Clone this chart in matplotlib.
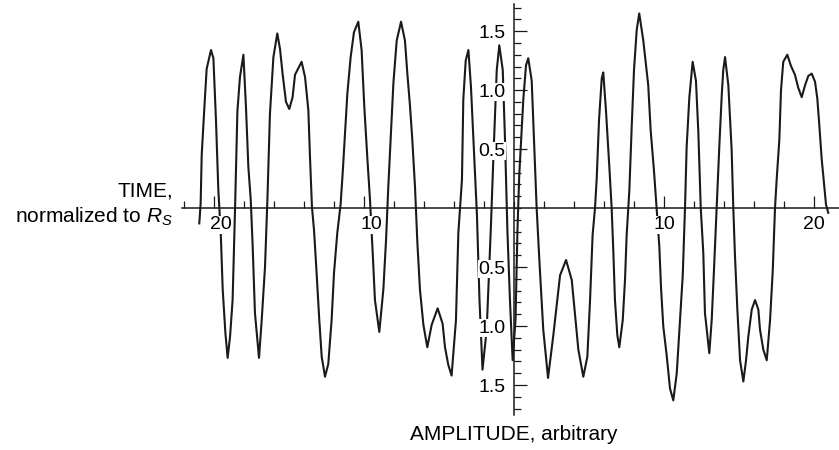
import numpy as np
import matplotlib
matplotlib.use('Agg')
import matplotlib.pyplot as plt
import matplotlib.transforms as mtransforms
from matplotlib.ticker import MultipleLocator

plt.rcParams['font.family'] = 'Liberation Sans'
plt.rcParams['mathtext.fontset'] = 'custom'
plt.rcParams['mathtext.rm'] = 'Liberation Sans'
plt.rcParams['mathtext.it'] = 'Liberation Sans:italic'

# waveform (time normalized to R_S, amplitude arbitrary)
time = [-20.98, -20.89, -20.82, -20.67, -20.49, -20.2, -20.04, -19.87, -19.71, -19.55,
        -19.42, -19.24, -19.09, -18.93, -18.76, -18.6, -18.44, -18.27, -18.04, -17.87,
        -17.71, -17.55, -17.42, -17.27, -17.0, -16.82, -16.6, -16.44, -16.27, -16.04,
        -15.78, -15.6, -15.42, -15.2, -14.98, -14.76, -14.6, -14.16, -13.93, -13.71,
        -13.6, -13.47, -13.33, -13.16, -12.98, -12.82, -12.6, -12.38, -12.16, -12.0,
        -11.78, -11.56, -11.42, -11.27, -11.11, -10.89, -10.67, -10.38, -10.16, -9.98,
        -9.78, -9.6, -9.42, -9.27, -8.98, -8.71, -8.53, -8.38, -8.22, -8.04,
        -7.82, -7.53, -7.27, -7.11, -6.93, -6.78, -6.6, -6.44, -6.27, -6.04,
        -5.78, -5.49, -5.09, -4.76, -4.6, -4.38, -4.16, -3.87, -3.71,
        -3.6, -3.47, -3.38, -3.22, -3.04, -2.87, -2.67, -2.47, -2.3, -2.1,
        -1.82, -1.55, -1.38, -1.15, -0.98, -0.75, -0.6, -0.44, -0.27, -0.09,
        0.1, 0.23, 0.35, 0.62, 0.8, 0.95, 1.18, 1.33, 1.51, 1.69,
        1.95, 2.27, 2.62, 2.85, 3.07, 3.47, 3.85, 4.07, 4.29, 4.62,
        4.89, 5.07, 5.24, 5.4, 5.51, 5.67, 5.85, 5.95, 6.13, 6.36,
        6.51, 6.62, 6.73, 6.89, 7.02, 7.25, 7.4, 7.51, 7.69, 7.85,
        8.0, 8.18, 8.35, 8.62, 8.95, 9.11, 9.33, 9.51, 9.69, 9.8,
        9.95, 10.18, 10.4, 10.62, 10.85, 11.07, 11.25, 11.4, 11.51, 11.69,
        11.91, 12.13, 12.29, 12.45, 12.62, 12.73, 13.02, 13.18, 13.33, 13.51,
        13.69, 13.85, 13.95, 14.07, 14.29, 14.51, 14.62, 14.73, 14.89, 15.07,
        15.29, 15.47, 15.62, 15.85, 16.07, 16.29, 16.4, 16.62, 16.85, 17.07,
        17.25, 17.4, 17.51, 17.69, 17.8, 17.95, 18.22, 18.45, 18.73, 18.95,
        19.18, 19.4, 19.62, 19.85, 20.07, 20.22, 20.35, 20.51, 20.67, 20.8,
        20.95]

amplitude = [-0.13, 0.04, 0.45, 0.79, 1.18, 1.34, 1.27, 0.75, 0.15, -0.21,
             -0.69, -1.06, -1.27, -1.09, -0.78, -0.02, 0.82, 1.11, 1.30, 0.86,
             0.35, 0.07, -0.33, -0.89, -1.27, -0.95, -0.50, 0.07, 0.80, 1.28,
             1.48, 1.35, 1.13, 0.90, 0.84, 0.94, 1.13, 1.24, 1.11, 0.83,
             0.43, 0.01, -0.19, -0.55, -0.95, -1.26, -1.43, -1.32, -0.95, -0.55,
             -0.21, 0.03, 0.30, 0.63, 0.97, 1.28, 1.49, 1.58, 1.34, 0.86,
             0.43, 0.07, -0.38, -0.78, -1.05, -0.69, -0.27, 0.18, 0.60, 1.06,
             1.42, 1.58, 1.42, 1.14, 0.86, 0.58, 0.18, -0.30, -0.69, -0.99,
             -1.18, -0.99, -0.85, -0.98, -1.18, -1.33, -1.42, -0.95, -0.21,
             0.0, 0.24, 0.92, 1.25, 1.34, 1.03, 0.49, -0.06, -0.78, -1.37,
             -1.03, -0.19, 0.41, 1.17, 1.38, 1.17, 0.58, -0.19, -0.78, -1.29,
             -0.95, -0.19, 0.28, 0.92, 1.21, 1.27, 1.08, 0.58, 0.0, -0.44,
             -1.03, -1.44, -1.08, -0.82, -0.57, -0.44, -0.61, -0.91, -1.20, -1.43,
             -1.26, -0.78, -0.23, 0.0, 0.24, 0.75, 1.10, 1.15, 0.83, 0.34,
             0.0, -0.36, -0.78, -1.08, -1.18, -0.95, -0.61, -0.23, 0.15, 0.70,
             1.17, 1.51, 1.65, 1.42, 1.04, 0.66, 0.32, 0.0, -0.33, -0.67,
             -1.0, -1.25, -1.53, -1.63, -1.40, -0.95, -0.57, 0.0, 0.52, 0.94,
             1.24, 1.08, 0.64, 0.0, -0.38, -0.89, -1.23, -0.95, -0.53, 0.0,
             0.53, 0.96, 1.17, 1.28, 1.04, 0.49, 0.0, -0.40, -0.86, -1.29,
             -1.47, -1.29, -1.09, -0.86, -0.78, -0.86, -1.03, -1.20, -1.29, -0.95,
             -0.53, 0.0, 0.24, 0.58, 1.0, 1.24, 1.30, 1.21, 1.13, 1.02,
             0.94, 1.04, 1.12, 1.14, 1.07, 0.93, 0.71, 0.42, 0.21, 0.03,
             -0.04]

xticks = [-20, -10, 10, 20]
xticklabels = ['20', '10', '10', '20']
yticks = [-1.5, -1.0, -0.5, 0.5, 1.0, 1.5]
yticklabels = ['1.5', '1.0', '0.5', '0.5', '1.0', '1.5']

fig = plt.figure(figsize=(8.39, 4.5), dpi=100)
ax = fig.add_axes([182.5/839, (450-414.5)/450, 657/839, 410.5/450])
ax.set_xlim(-22.1, 21.7)
ax.set_ylim(-1.75, 1.73)

ax.plot(time, amplitude, color='#1a1a1a', lw=1.5, zorder=2)

# axes through the origin, Mathematica style
for side in ['top', 'right']:
	ax.spines[side].set_visible(False)
ax.spines['left'].set_position('zero')
ax.spines['bottom'].set_position('zero')
for side in ['left', 'bottom']:
	ax.spines[side].set_linewidth(1.1)
	ax.spines[side].set_color('#1a1a1a')
ax.set_axisbelow(False)
ax.patch.set_visible(False)

ax.set_xticks(xticks)
ax.set_xticklabels(xticklabels)
ax.set_yticks(yticks)
ax.set_yticklabels(yticklabels)
ax.xaxis.set_minor_locator(MultipleLocator(2))
ax.yaxis.set_minor_locator(MultipleLocator(0.1))
ax.tick_params(which='major', direction='in', length=9, width=0.9, color='#1a1a1a', labelsize=14)
ax.tick_params(which='minor', direction='in', length=5, width=0.9, color='#1a1a1a')
ax.tick_params(axis='x', which='major', pad=6)
ax.tick_params(axis='y', which='major', pad=6)
for lab in ax.get_xticklabels() + ax.get_yticklabels():
	lab.set_bbox(dict(facecolor='white', edgecolor='none', pad=0.5))

# negative side labels sit a little right of their ticks (room for a hidden minus)
shift = mtransforms.ScaledTranslation(5/72, 0, fig.dpi_scale_trans)
for lab in ax.get_xticklabels()[:2]:
	lab.set_transform(lab.get_transform() + shift)

fig.text(173/839, 1 - 204.5/450, 'TIME,\nnormalized to $R_S$', ha='right', va='center',
		 multialignment='right', fontsize=15, linespacing=1.3)
fig.text(514/839, 1 - 435/450, 'AMPLITUDE, arbitrary', ha='center', va='center', fontsize=15)

fig.savefig('out.png', dpi=100)
